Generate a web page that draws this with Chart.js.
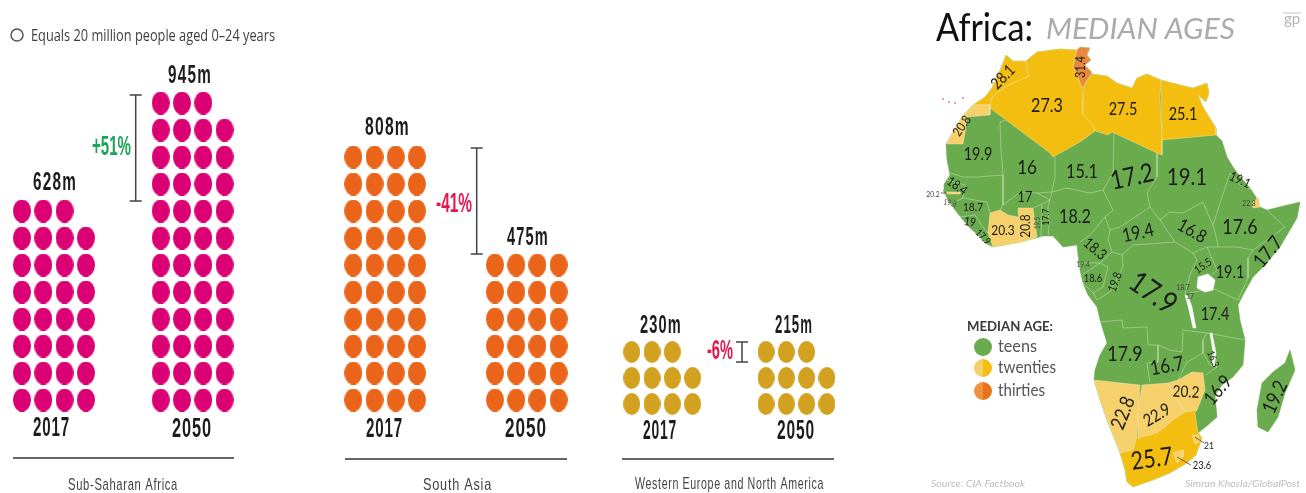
<!DOCTYPE html>
<html>
<head>
<meta charset="utf-8">
<title>Youth population and African median ages</title>
<style>html,body{margin:0;padding:0;background:#fff}canvas{display:block}</style>
<script src="https://cdn.jsdelivr.net/npm/chart.js@4"></script>
</head>
<body>
<canvas id="c" width="1306" height="493"></canvas>
<script>
// ---- Youth population data (millions aged 0-24) ----
const regions = ['Sub-Saharan Africa', 'South Asia', 'Western Europe and North America'];
const years = ['2017', '2050'];
const youth2017 = [628, 808, 230];
const youth2050 = [945, 475, 215];
const dots2017 = [31, 40, 11];
const dots2050 = [47, 24, 11];
const changes = ['+51%', '-41%', '-6%'];

// ---- Median age by country ----
const countries = ['Morocco','Algeria','Tunisia','Libya','Egypt','Western Sahara','Mauritania','Mali','Niger','Chad','Sudan','Eritrea','Senegal','Gambia','Guinea-Bissau','Guinea','Sierra Leone','Liberia','Burkina Faso','Ivory Coast','Ghana','Togo','Benin','Nigeria','Cameroon','Central African Rep.','South Sudan','Ethiopia','Djibouti','Somalia','Eq. Guinea','Gabon','Congo','DR Congo','Uganda','Kenya','Rwanda','Burundi','Tanzania','Angola','Zambia','Malawi','Mozambique','Madagascar','Zimbabwe','Namibia','Botswana','South Africa','Swaziland','Lesotho'];
const medianAges = [28.1,27.3,31.4,27.5,25.1,20.8,19.9,16,15.1,17.2,19.1,19.1,18.4,20.2,19.8,18.7,19,17.9,17,20.3,20.8,19.5,17.7,18.2,18.3,19.4,16.8,17.6,22.8,17.7,19.4,18.6,19.8,17.9,15.5,19.1,18.7,17,17.4,17.9,16.7,16.3,16.9,19.2,20.2,22.8,22.9,25.7,21,23.6];
const legendGroups = ['teens', 'twenties', 'thirties'];

// ---- Map geometry, in map units ----
const continentOutline = [[1006,55],[1013,61],[1026,61],[1037,52],[1060,49],[1077,50],[1080,47],[1090,48],[1087,55],[1091,60],[1085,65],[1092,74],[1107,76],[1117,83],[1132,88],[1137,78],[1147,74],[1161,80],[1180,85],[1193,88],[1207,83],[1209,93],[1206,102],[1198,95],[1203,107],[1216,128],[1216,135],[1222,141],[1227,157],[1233,167],[1238,174],[1250,188],[1256,197],[1260,207],[1267,210],[1300,202],[1297,218],[1280,247],[1265,265],[1253,277],[1243,295],[1238,305],[1240,320],[1245,340],[1243,365],[1233,377],[1222,385],[1215,395],[1217,417],[1208,425],[1198,433],[1202,438],[1196,455],[1187,463],[1170,473],[1153,480],[1133,487],[1127,482],[1125,470],[1120,453],[1107,420],[1100,400],[1094,380],[1095,370],[1100,355],[1107,343],[1100,320],[1097,307],[1088,295],[1083,283],[1080,270],[1078,255],[1077,245],[1063,247],[1053,236],[1043,236],[1036,238],[1020,242],[1005,245],[993,247],[985,243],[978,235],[970,228],[963,220],[955,210],[948,200],[943,190],[944,184],[950,175],[947,160],[946,144],[953,132],[962,117],[973,105],[985,97],[992,88],[998,75],[1003,63]];
const madagascarOutline = [[1290,350],[1295,370],[1285,393],[1278,417],[1268,432],[1258,427],[1257,410],[1262,383],[1273,372],[1285,363]];
const countryShapes = {
  'Morocco': [[1006,55],[1013,61],[1026,61],[1027,68],[1029,76],[1017,82],[1007,86],[992,97],[990,105],[973,105],[985,97],[992,88],[998,75],[1003,63]],
  'Algeria': [[1026,61],[1037,52],[1060,49],[1077,50],[1073,67],[1077,75],[1082,87],[1083,100],[1083,113],[1093,126],[1095,131],[1080,142],[1053,157],[1050,153],[1006,120],[990,108],[992,97],[1007,86],[1029,76],[1027,68]],
  'Tunisia': [[1077,50],[1080,47],[1090,48],[1087,55],[1091,60],[1085,65],[1092,72],[1086,82],[1083,88],[1082,87],[1077,75],[1073,67]],
  'Libya': [[1092,74],[1107,76],[1117,83],[1132,88],[1137,78],[1147,74],[1161,80],[1160,97],[1162,140],[1162,155],[1157,153],[1112,132],[1108,135],[1095,131],[1093,126],[1083,113],[1083,100],[1083,88],[1086,82]],
  'Egypt': [[1161,80],[1180,85],[1193,88],[1207,83],[1209,93],[1206,102],[1198,95],[1203,107],[1216,128],[1216,135],[1162,140]],
  'Western Sahara': [[973,105],[990,105],[990,115],[967,117],[965,133],[963,144],[946,144],[953,132],[962,117]],
  'Ivory Coast': [[990,213],[1000,210],[1008,215],[1018,217],[1020,243],[1005,245],[993,247],[988,233]],
  'Ghana': [[1018,208],[1033,208],[1035,223],[1037,237],[1020,243]],
  'Gambia': [[946,192],[960,192],[960,194],[946,194]],
  'Djibouti': [[1252,203],[1259,197],[1260,207],[1253,208]],
  'Namibia': [[1094,380],[1140,385],[1137,437],[1133,450],[1120,453],[1107,420],[1100,400]],
  'Botswana': [[1142,385],[1168,383],[1172,392],[1185,412],[1173,420],[1165,427],[1157,433],[1138,438],[1138,410]],
  'Zimbabwe': [[1192,372],[1203,373],[1205,390],[1197,410],[1185,412],[1172,392],[1168,383],[1178,380]],
  'South Africa': [[1120,453],[1133,450],[1137,437],[1138,438],[1157,433],[1165,427],[1173,420],[1185,412],[1197,410],[1195,413],[1198,433],[1202,438],[1196,455],[1187,463],[1170,473],[1153,480],[1133,487],[1127,482],[1125,470]],
  'Swaziland': [[1192,435],[1198,435],[1200,441],[1195,444]],
  'Lesotho': [[1173,453],[1183,450],[1183,457],[1177,463]]
};
const lakes = [
  [[1198,277],[1208,274],[1215,280],[1213,290],[1205,292],[1197,288]],
  [[1185,295],[1188,296],[1192,307],[1196,328],[1193,328],[1189,310]],
  [[1210,333],[1212,333],[1216,353],[1214,367],[1212,366],[1213,352]]
];
const teenBorders = [
  [[1006,120],[1000,122],[1001,150],[1003,175],[977,177],[963,177],[947,172]],
  [[1003,175],[1003,195],[1003,205],[1000,210]],
  [[1003,205],[1020,192],[1037,193],[1050,200],[1040,205],[1033,208]],
  [[1037,193],[1052,192],[1055,177],[1055,157]],
  [[953,203],[963,198],[987,202],[990,213]],
  [[947,180],[965,185],[963,198]],
  [[960,217],[975,215],[983,227],[988,233]],
  [[1052,192],[1067,188],[1090,193],[1103,190],[1113,173],[1114,133]],
  [[1103,190],[1113,210],[1105,217],[1090,235],[1080,242]],
  [[1052,192],[1048,207],[1049,227],[1048,237]],
  [[1042,205],[1041,237]],
  [[1157,153],[1157,177],[1147,193],[1150,207],[1120,227],[1110,230],[1105,217]],
  [[1150,207],[1160,220],[1170,212],[1183,213],[1203,202],[1207,212],[1213,225]],
  [[1213,225],[1222,197],[1230,173],[1240,185],[1253,190]],
  [[1213,225],[1217,240],[1218,247],[1237,247],[1253,250],[1285,227],[1267,210]],
  [[1160,220],[1175,242],[1193,253],[1207,247],[1218,247]],
  [[1175,242],[1133,245],[1122,255],[1112,252],[1108,240],[1110,230]],
  [[1112,252],[1100,263],[1080,263]],
  [[1082,275],[1100,263],[1108,267],[1103,287],[1093,293],[1083,283]],
  [[1122,255],[1123,267],[1110,292],[1097,300],[1093,293]],
  [[1193,253],[1197,260],[1190,275],[1186,290],[1185,295]],
  [[1207,247],[1217,270],[1212,275]],
  [[1253,250],[1248,258],[1248,278],[1238,300],[1212,288],[1190,293]],
  [[1182,330],[1207,333],[1245,340]],
  [[1098,322],[1122,320],[1123,328],[1147,327],[1148,345],[1158,345],[1170,350],[1182,352],[1183,332]],
  [[1158,345],[1158,362],[1147,363],[1150,383]],
  [[1203,353],[1187,362],[1178,380]],
  [[1207,333],[1203,340],[1203,353],[1210,365],[1217,367],[1215,355]],
  [[1217,367],[1206,375]]
];
const canaryIslands = [[943,99],[949,102],[955,103],[963,98]];

// ---- Layout (page units) ----
const PINK = '#db0073', ORANGE = '#ea651a', GOLD = '#d2a120';
const regionColors = [PINK, ORANGE, GOLD];
const stackLayout = [
  { x17: 22, x50: 160.7, pitchX: 21.3, pitchY: 27, base: 400, w: 18, h: 23 },
  { x17: 353.3, x50: 495, pitchX: 21.2, pitchY: 27, base: 400, w: 18, h: 23 },
  { x17: 631.7, x50: 766, pitchX: 20.3, pitchY: 26, base: 404, w: 17, h: 22 }
];
const bracketLayout = [
  { x: 135.7, y0: 95, y1: 201 },
  { x: 476.7, y0: 148, y1: 254 },
  { x: 742, y0: 342, y1: 362 }
];
const ruleLayout = [[13, 234, 458], [345, 567, 459], [622, 834, 459]];
const totalLabels = [
  [{ x: 55, y: 183, w: 44 }, { x: 190, y: 76, w: 44 }],
  [{ x: 387.5, y: 128, w: 45 }, { x: 528, y: 238, w: 42 }],
  [{ x: 661, y: 326, w: 42 }, { x: 794, y: 326, w: 38 }]
];
const yearLabels = [
  [{ x: 51.5, y: 429, w: 37 }, { x: 192, y: 430, w: 40 }],
  [{ x: 384.5, y: 430, w: 37 }, { x: 526, y: 430, w: 42 }],
  [{ x: 660, y: 432, w: 34 }, { x: 796, y: 432, w: 38 }]
];
const regionLabels = [{ x: 123, y: 485, w: 110 }, { x: 457.5, y: 485, w: 69 }, { x: 729.5, y: 484, w: 189 }];
const changeLabels = [
  { x: 111.5, y: 148, w: 39, c: '#1fa35a' },
  { x: 454, y: 205, w: 36, c: '#e5174f' },
  { x: 720, y: 352, w: 26, c: '#e5174f' }
];
const logoBar = [[1283, 13], [1301, 13]];
const NARROW = '"Liberation Sans Narrow","Liberation Sans",sans-serif';
const AGE_SQUEEZE = 0.85;

// Map label placement: x, y, font size, rotation in degrees
const agePlacement = {
  'Morocco':[1003,77,16,-45],'Algeria':[1047,106,19,0],'Tunisia':[1081,67,13,-90],'Libya':[1123,110,17,0],'Egypt':[1183,115,17,0],
  'Western Sahara':[962,126,13,-55],'Mauritania':[978,155,17,0],'Mali':[1027,168,20,0],'Niger':[1082,172,19,0],'Chad':[1132,177,26,-12],
  'Sudan':[1187,177,24,0],'Eritrea':[1240,180,13,25],'Senegal':[957,186,13,35],'Gambia':[933,194,8,0],'Guinea-Bissau':[950,203,8,10],
  'Guinea':[973,207,12,0],'Sierra Leone':[970,222,12,10],'Liberia':[983,237,10,45],'Burkina Faso':[1025,197,15,0],'Ivory Coast':[1003,230,14,0],
  'Ghana':[1025,226,14,-90],'Togo':[1038,223,7,-90],'Benin':[1046,217,10,-90],'Nigeria':[1075,217,19,0],'Cameroon':[1095,249,15,40],
  'Central African Rep.':[1138,233,19,-12],'South Sudan':[1192,231,18,30],'Ethiopia':[1240,227,21,0],'Djibouti':[1249,203,8,0],'Somalia':[1268,252,20,-50],
  'Eq. Guinea':[1083,264,8,0],'Gabon':[1093,278,11,0],'Congo':[1115,282,12,-70],'DR Congo':[1153,293,30,35],'Uganda':[1203,266,11,-35],
  'Kenya':[1230,273,17,0],'Rwanda':[1183,287,8,0],'Burundi':[1190,296,8,0],'Tanzania':[1215,315,17,0],'Angola':[1125,354,21,0],
  'Zambia':[1167,366,20,-10],'Malawi':[1213,359,10,70],'Mozambique':[1218,390,19,-50],'Madagascar':[1275,397,20,-65],'Zimbabwe':[1186,392,16,3],
  'Namibia':[1123,413,20,-68],'Botswana':[1157,415,17,-30],'South Africa':[1152,459,25,-8],'Swaziland':[1209,446,10,0],'Lesotho':[1202,465,11,0]
};
const leaderLines = [
  [[941,193],[947,193]],
  [[1195,437],[1204,443]],
  [[1177,457],[1191,465]]
];

const TEEN = '#6aab4e', TWENTY_LIGHT = '#f6d06a', TWENTY = '#f4be10', THIRTY = '#e88a3e';
const ageColor = a => a >= 30 ? THIRTY : a >= 25 ? TWENTY : a >= 20 ? TWENTY_LIGHT : TEEN;

// Closes a ring so the filler paints the whole shape
const ring = pts => pts.concat([pts[0]]).map(([x, y]) => ({ x, y }));
const path = pts => pts.map(([x, y]) => ({ x, y }));

// Slightly tall oval sprite used as the pictogram mark
function ovalSprite(color, w, h) {
  const c = document.createElement('canvas');
  c.width = w; c.height = h;
  const g = c.getContext('2d');
  g.fillStyle = color;
  g.beginPath();
  g.ellipse(w / 2, h / 2, w / 2, h / 2, 0, 0, Math.PI * 2);
  g.fill();
  return c;
}
// Two-tone round key for the map legend
function halfSprite(left, right) {
  const c = document.createElement('canvas');
  c.width = 18; c.height = 18;
  const g = c.getContext('2d');
  g.fillStyle = left;
  g.beginPath(); g.arc(9, 9, 9, Math.PI / 2, Math.PI * 1.5); g.fill();
  g.fillStyle = right;
  g.beginPath(); g.arc(9, 9, 9, -Math.PI / 2, Math.PI / 2); g.fill();
  return c;
}

// Fills a stack from the bottom row up; a short remainder sits on top, left aligned
function stackPoints(count, x0, lay) {
  const pts = [];
  const partial = count % 4;
  const rows = Math.ceil(count / 4);
  for (let row = 0; row < rows; row++) {
    const inRow = row === rows - 1 && partial ? partial : 4;
    for (let col = 0; col < inRow; col++) {
      pts.push({ x: x0 + lay.pitchX * col, y: lay.base - lay.pitchY * row });
    }
  }
  return pts;
}

const painted = [];
const polyLayer = (label, data, fill, stroke, width) => painted.push({
  label, data, showLine: true, fill: 'shape', backgroundColor: fill,
  borderColor: stroke, borderWidth: width, pointRadius: 0, tension: 0
});
const lineLayer = (label, data, color, width) => painted.push({
  label, data, showLine: true, fill: false, borderColor: color,
  borderWidth: width, pointRadius: 0, tension: 0
});

// Pictograms, rules and change brackets
regions.forEach((name, i) => {
  const lay = stackLayout[i];
  const sprite = ovalSprite(regionColors[i], lay.w, lay.h);
  [[dots2017[i], lay.x17, years[0]], [dots2050[i], lay.x50, years[1]]].forEach(([n, x0, yr]) => {
    painted.push({
      label: name + ' ' + yr, data: stackPoints(n, x0, lay), showLine: false,
      pointStyle: sprite, pointRadius: lay.w / 2, pointBackgroundColor: regionColors[i]
    });
  });
  const [a, b, y] = ruleLayout[i];
  lineLayer('rule ' + name, path([[a, y], [b, y]]), '#333', 1.5);
  const br = bracketLayout[i], cap = 6;
  lineLayer('change ' + name, path([
    [br.x - cap, br.y0], [br.x + cap, br.y0], [br.x, br.y0], [br.x, br.y1], [br.x - cap, br.y1], [br.x + cap, br.y1]
  ]), '#444', 1.5);
});

// Map: landmass, coloured countries, borders, lakes
const landStroke = 'rgba(225,238,205,0.6)';
polyLayer('Africa', ring(continentOutline), TEEN, TEEN, 0.5);
polyLayer('Madagascar', ring(madagascarOutline), TEEN, TEEN, 0.5);
countries.forEach((name, i) => {
  if (countryShapes[name]) {
    polyLayer(name, ring(countryShapes[name]), ageColor(medianAges[i]), 'rgba(255,245,205,0.6)', 0.6);
  }
});
teenBorders.forEach((b, i) => lineLayer('border ' + i, path(b), landStroke, 0.7));
lakes.forEach((l, i) => polyLayer('lake ' + i, ring(l), '#fff', '#fff', 0.5));
leaderLines.forEach((l, i) => lineLayer('leader ' + i, path(l), '#444', 0.8));
lineLayer('logo bar', path(logoBar), '#c4c4c4', 1);
painted.push({
  label: 'Canary Islands', data: path(canaryIslands), showLine: false,
  pointRadius: 0.9, pointBackgroundColor: '#cf7a8c', pointBorderWidth: 0
});

// Map legend keys
painted.push({
  label: 'key', showLine: false, pointRadius: 9,
  data: path([[983, 347], [983, 368], [983, 391]]),
  pointStyle: [halfSprite(TEEN, TEEN), halfSprite(TWENTY_LIGHT, TWENTY), halfSprite('#ee9140', '#e9731b')]
});

// Library draws the first dataset last, so paint order is reversed
const datasets = painted.slice().reverse();

function put(chart, text, x, y, font, color, opt) {
  opt = opt || {};
  const ctx = chart.ctx;
  const px = chart.scales.x.getPixelForValue(x), py = chart.scales.y.getPixelForValue(y);
  ctx.save();
  ctx.font = font;
  ctx.fillStyle = color;
  ctx.textAlign = 'center';
  ctx.textBaseline = 'middle';
  if (opt.ls) ctx.letterSpacing = opt.ls + 'px';
  ctx.translate(px, py);
  if (opt.rot) ctx.rotate(opt.rot * Math.PI / 180);
  if (opt.w) ctx.scale(opt.w / ctx.measureText(text).width, 1);
  else if (opt.sx) ctx.scale(opt.sx, 1);
  ctx.fillText(text, 0, 0);
  ctx.restore();
}

const textPlugin = {
  id: 'pageText',
  afterDatasetsDraw(chart) {
    const ctx = chart.ctx;
    // Pictogram key
    ctx.save();
    ctx.strokeStyle = '#555';
    ctx.lineWidth = 1.5;
    ctx.beginPath();
    ctx.arc(chart.scales.x.getPixelForValue(17), chart.scales.y.getPixelForValue(35), 6, 0, Math.PI * 2);
    ctx.stroke();
    ctx.restore();
    put(chart, 'Equals 20 million people aged 0–24 years', 153, 36, '17px "Open Sans",sans-serif', '#3f3f3f', { w: 244 });

    regions.forEach((name, i) => {
      [youth2017[i], youth2050[i]].forEach((v, j) => {
        const t = totalLabels[i][j];
        put(chart, v + 'm', t.x, t.y, 'bold 25px ' + NARROW, '#1d1d1d', { w: t.w, ls: 2 });
        const yl = yearLabels[i][j];
        put(chart, years[j], yl.x, yl.y, 'bold 27px ' + NARROW, '#1d1d1d', { w: yl.w, ls: 1.5 });
      });
      const rl = regionLabels[i];
      put(chart, name, rl.x, rl.y, '17px ' + NARROW, '#444', { w: rl.w, ls: 1 });
      const cl = changeLabels[i];
      put(chart, changes[i], cl.x, cl.y, 'bold 27px ' + NARROW, cl.c, { w: cl.w });
    });

    // Map heading and notes
    put(chart, 'Africa:', 984.5, 29, '38px Lato,sans-serif', '#111', { w: 97 });
    put(chart, 'MEDIAN AGES', 1140.5, 30, 'italic 28px Lato,sans-serif', '#ababab', { w: 189 });
    put(chart, 'gp', 1292, 19, '15px Lato,sans-serif', '#b5b5b5');
    put(chart, 'MEDIAN AGE:', 1010, 327, 'bold 13px Lato,sans-serif', '#3a3a3a', { w: 86 });
    legendGroups.forEach((g, i) => {
      const ys = [347, 368, 391], ws = [39, 58, 47];
      put(chart, g, 998 + ws[i] / 2, ys[i], '17px Lato,sans-serif', '#555', { w: ws[i] });
    });
    put(chart, 'Source: CIA Factbook', 978, 484, 'italic 10px Lato,sans-serif', '#bdbdbd', { w: 94 });
    put(chart, 'Simran Khosla/GlobalPost', 1242.5, 484, 'italic 10px Lato,sans-serif', '#bdbdbd', { w: 115 });

    // One median-age label per country
    countries.forEach((name, i) => {
      const [x, y, size, rot] = agePlacement[name];
      put(chart, String(medianAges[i]), x, y, size + 'px Lato,sans-serif', size < 9 ? '#444' : '#1a1a1a', { rot, sx: AGE_SQUEEZE });
    });
  }
};

new Chart(document.getElementById('c'), {
  type: 'scatter',
  data: { datasets },
  plugins: [textPlugin],
  options: {
    responsive: false,
    animation: false,
    layout: { padding: 0, autoPadding: false },
    clip: false,
    plugins: { legend: { display: false }, tooltip: { enabled: false }, title: { display: false } },
    scales: {
      x: { type: 'linear', min: 0, max: 1306, display: false },
      y: { type: 'linear', min: 0, max: 493, reverse: true, display: false }
    }
  }
});
</script>
</body>
</html>
